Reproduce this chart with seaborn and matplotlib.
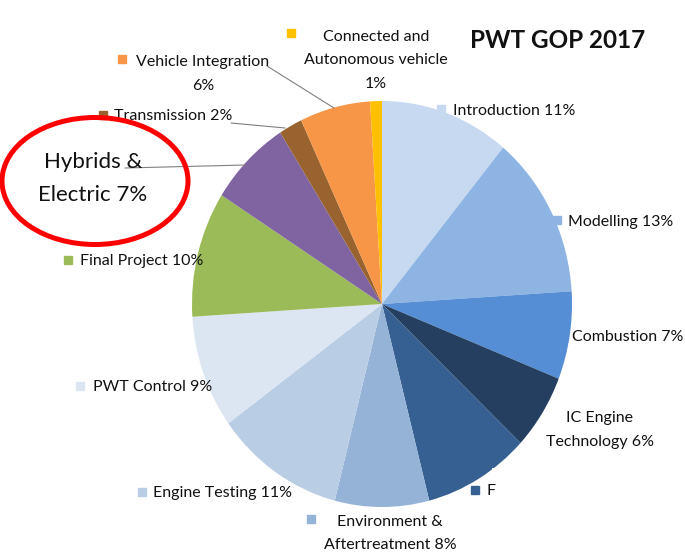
import matplotlib
matplotlib.use("Agg")
import matplotlib.pyplot as plt
import seaborn as sns
from matplotlib.patches import Ellipse, Rectangle

# ---- data ----
categories = ["Introduction", "Modelling", "Combustion", "IC Engine Technology", "F",
              "Environment & Aftertreatment", "Engine Testing", "PWT Control",
              "Final Project", "Hybrids & Electric", "Transmission",
              "Vehicle Integration", "Connected and Autonomous vehicle"]
values = [11, 13, 7, 6, 9, 8, 11, 9, 10, 7, 2, 6, 1]
label_texts = ["Introduction 11%", "Modelling 13%", "Combustion 7%",
               "IC Engine\nTechnology 6%", "F", "Environment &\nAftertreatment 8%",
               "Engine Testing 11%", "PWT Control 9%", "Final Project 10%",
               "Hybrids &\nElectric 7%", "Transmission 2%",
               "Vehicle Integration\n6%", "Connected and\nAutonomous vehicle\n1%"]
title = "PWT GOP 2017"

# ---- styles ----
colors = ["#C6D9F1", "#8EB4E3", "#558ED5", "#243F60", "#376092", "#95B3D7",
          "#B9CDE5", "#DCE6F2", "#9BBB59", "#8064A2", "#98632F", "#F79646", "#FFC000"]

sns.set_theme(style="white")
plt.rcParams['font.family'] = ['Lato', 'DejaVu Sans']

W, H = 685, 556
fig = plt.figure(figsize=(W / 100, H / 100), dpi=100)
pal = sns.color_palette(colors)

# pie axes (slightly stretched vertically, as in the reference)
ax_pie = fig.add_axes([0, 0, 1, 1])
cx, cy, RX, RY = 382, 304, 190, 203
ax_pie.pie(values, colors=pal, startangle=90, counterclock=False,
           radius=1, wedgeprops=dict(linewidth=0), frame=True)
ax_pie.set_aspect('auto')
ax_pie.set_xlim(-cx / RX, (W - cx) / RX)
ax_pie.set_ylim((cy - H) / RY, cy / RY)
ax_pie.axis('off')

# annotation axes in pixel coordinates
ax = fig.add_axes([0, 0, 1, 1])
ax.set_xlim(0, W)
ax.set_ylim(0, H)
ax.patch.set_alpha(0)
ax.axis('off')

def Y(y):
    return H - y

# label layout: (x, y, ha, marker position or None, fontsize, linespacing)
layout = [
    (453, 111, 'left', (441, 109), 11.5, 1.9),
    (568, 222, 'left', (557, 220), 11.5, 1.9),
    (572, 337, 'left', None, 11.5, 1.9),
    (600, 430, 'center', None, 11.5, 1.9),
    (487, 491, 'left', (475, 490), 11.5, 1.9),
    (390, 533.5, 'center', (311, 519), 11.5, 1.9),
    (153, 493, 'left', (142, 492), 11.5, 1.9),
    (93, 387, 'left', (80, 386), 11.5, 1.9),
    (80, 261, 'left', (68, 260), 11.5, 1.9),
    (93, 178.5, 'center', None, 16, 1.85),
    (114, 116, 'left', (103, 115), 11.5, 1.9),
    (203, 74, 'center', (122, 59), 11.5, 1.9),
    (376, 60.5, 'center', (291, 33), 11.5, 1.9),
]

# white box covering the hidden label
ax.add_patch(Rectangle((492, Y(512)), 193, 44, facecolor='white', edgecolor='none', zorder=5))

for txt, col, (x, y, ha, mk, fs, ls) in zip(label_texts, pal, layout):
    ax.text(x, Y(y), txt, ha=ha, va='center', multialignment='center',
            fontsize=fs, color='#111111', linespacing=ls, zorder=6)
    if mk is not None:
        ax.plot(mk[0], Y(mk[1]), marker='s', markersize=6, color=col,
                linestyle='none', zorder=6)

# leader lines
for (x0, y0), (x1, y1) in [((125, 168), (245, 165)),
                           ((231, 123), (285, 128)),
                           ((267, 66), (334, 108))]:
    ax.plot([x0, x1], [Y(y0), Y(y1)], color='#808080', lw=0.8, zorder=4)

# title
ax.text(470, Y(41), title, ha='left', va='center', fontsize=17.5,
        fontweight='bold', color='#111111', zorder=6)

# red ellipse highlight
ax.add_patch(Ellipse((95, Y(181)), 186, 127, facecolor='none',
                     edgecolor='#FF0000', lw=3.6, zorder=7))

fig.savefig("out.png", dpi=100)
